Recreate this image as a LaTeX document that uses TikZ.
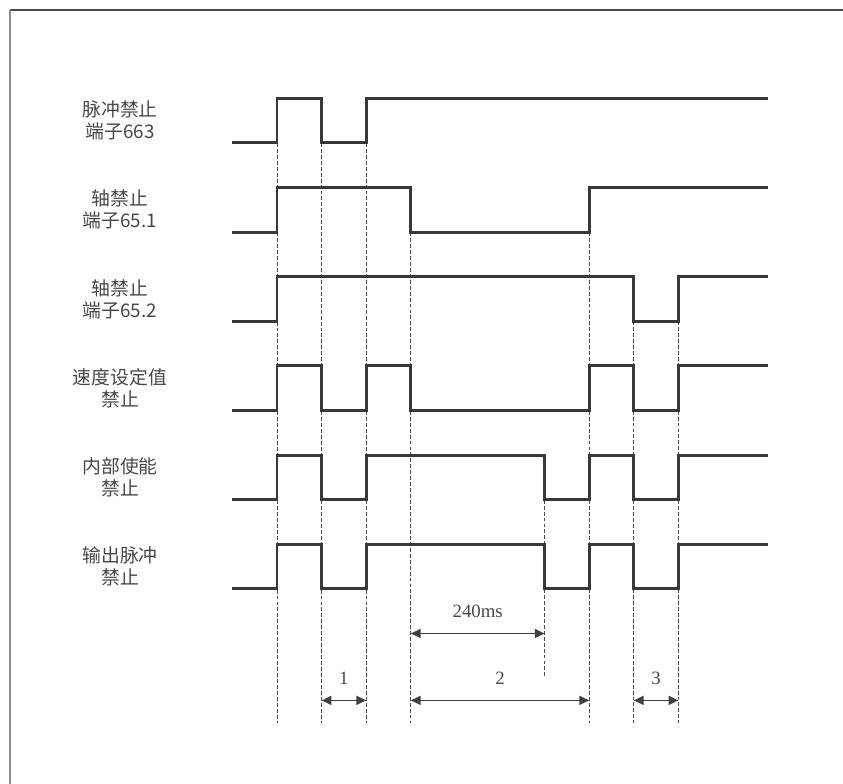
\documentclass[tikz,border=0pt]{standalone}
\usepackage{fontspec}
\setmainfont{Liberation Serif}
\newfontfamily\cjk{Noto Sans CJK SC}
\usetikzlibrary{arrows.meta}

\begin{document}
\begin{tikzpicture}[
    signal/.style={draw=black!78, line width=1.9pt, line join=miter},
    guide/.style={draw=black!70, line width=0.5pt, dash pattern=on 2.5pt off 1.3pt},
    dimarrow/.style={{Triangle[length=0.22cm, width=0.2cm]}-{Triangle[length=0.22cm, width=0.2cm]},
                     line width=1.1pt, draw=black!75, fill=black!75},
    siglabel/.style={align=center, text=black!72, font=\cjk\fontsize{12}{14}\selectfont},
    dimlabel/.style={text=black!72, font=\fontsize{12}{14}\selectfont},
]

\useasboundingbox (-6.211,2.204) rectangle (12.691,-15.374);

% ── frame (top and left edge only) ──
\draw[black!72, line width=1pt] (-5.987,1.98) -- (12.691,1.98);
\draw[black!45, line width=1pt] (-5.987,1.98) -- (-5.987,-15.374);

% ══════════════════════════════════════
% dashed guide lines at the edges
% ══════════════════════════════════════
\draw[guide] (0,-1) -- (0,-14);
\draw[guide] (1,-1) -- (1,-14);
\draw[guide] (2,-1) -- (2,-14);
\draw[guide] (3,-3) -- (3,-14);
\draw[guide] (6,-9) -- (6,-13);
\draw[guide] (7,-3) -- (7,-14);
\draw[guide] (8,-5) -- (8,-14);
\draw[guide] (9,-5) -- (9,-14);

% ══════════════════════════════════════
% signals (high = 0, low = -1 in each row)
% ══════════════════════════════════════
\begin{scope}[shift={(0,0)}]
    \node[siglabel] (pulse) at (-3.52,-0.5) {脉冲禁止\\端子663};
    \draw[signal] (-1,-1) -- (0,-1) -- (0,0) -- (1,0) -- (1,-1) -- (2,-1) -- (2,0) -- (11,0);
\end{scope}

\begin{scope}[shift={(0,-2)}]
    \node[siglabel] (axisa) at (-3.52,-0.5) {轴禁止\\端子65.1};
    \draw[signal] (-1,-1) -- (0,-1) -- (0,0) -- (3,0) -- (3,-1) -- (7,-1) -- (7,0) -- (11,0);
\end{scope}

\begin{scope}[shift={(0,-4)}]
    \node[siglabel] (axisb) at (-3.52,-0.5) {轴禁止\\端子65.2};
    \draw[signal] (-1,-1) -- (0,-1) -- (0,0) -- (8,0) -- (8,-1) -- (9,-1) -- (9,0) -- (11,0);
\end{scope}

\begin{scope}[shift={(0,-6)}]
    \node[siglabel] (speed) at (-3.52,-0.5) {速度设定值\\禁止};
    \draw[signal] (-1,-1) -- (0,-1) -- (0,0) -- (1,0) -- (1,-1) -- (2,-1) -- (2,0) -- (3,0) -- (3,-1)
        -- (7,-1) -- (7,0) -- (8,0) -- (8,-1) -- (9,-1) -- (9,0) -- (11,0);
\end{scope}

\begin{scope}[shift={(0,-8)}]
    \node[siglabel] (enable) at (-3.52,-0.5) {内部使能\\禁止};
    \draw[signal] (-1,-1) -- (0,-1) -- (0,0) -- (1,0) -- (1,-1) -- (2,-1) -- (2,0) -- (6,0) -- (6,-1)
        -- (7,-1) -- (7,0) -- (8,0) -- (8,-1) -- (9,-1) -- (9,0) -- (11,0);
\end{scope}

\begin{scope}[shift={(0,-10)}]
    \node[siglabel] (output) at (-3.52,-0.5) {输出脉冲\\禁止};
    \draw[signal] (-1,-1) -- (0,-1) -- (0,0) -- (1,0) -- (1,-1) -- (2,-1) -- (2,0) -- (6,0) -- (6,-1)
        -- (7,-1) -- (7,0) -- (8,0) -- (8,-1) -- (9,-1) -- (9,0) -- (11,0);
\end{scope}

% ══════════════════════════════════════
% time spans
% ══════════════════════════════════════
\coordinate (delaya) at (3,-12);
\coordinate (delayb) at (6,-12);
\draw[dimarrow] (delaya) -- (delayb);
\node[dimlabel] (delay) at (4.5,-11.5) {240ms};

\coordinate (span1a) at (1,-13.5);
\coordinate (span1b) at (2,-13.5);
\draw[dimarrow] (span1a) -- (span1b);
\node[dimlabel] (one) at (1.5,-13) {1};

\coordinate (span2a) at (3,-13.5);
\coordinate (span2b) at (7,-13.5);
\draw[dimarrow] (span2a) -- (span2b);
\node[dimlabel] (two) at (5,-13) {2};

\coordinate (span3a) at (8,-13.5);
\coordinate (span3b) at (9,-13.5);
\draw[dimarrow] (span3a) -- (span3b);
\node[dimlabel] (three) at (8.5,-13) {3};

\end{tikzpicture}
\end{document}
